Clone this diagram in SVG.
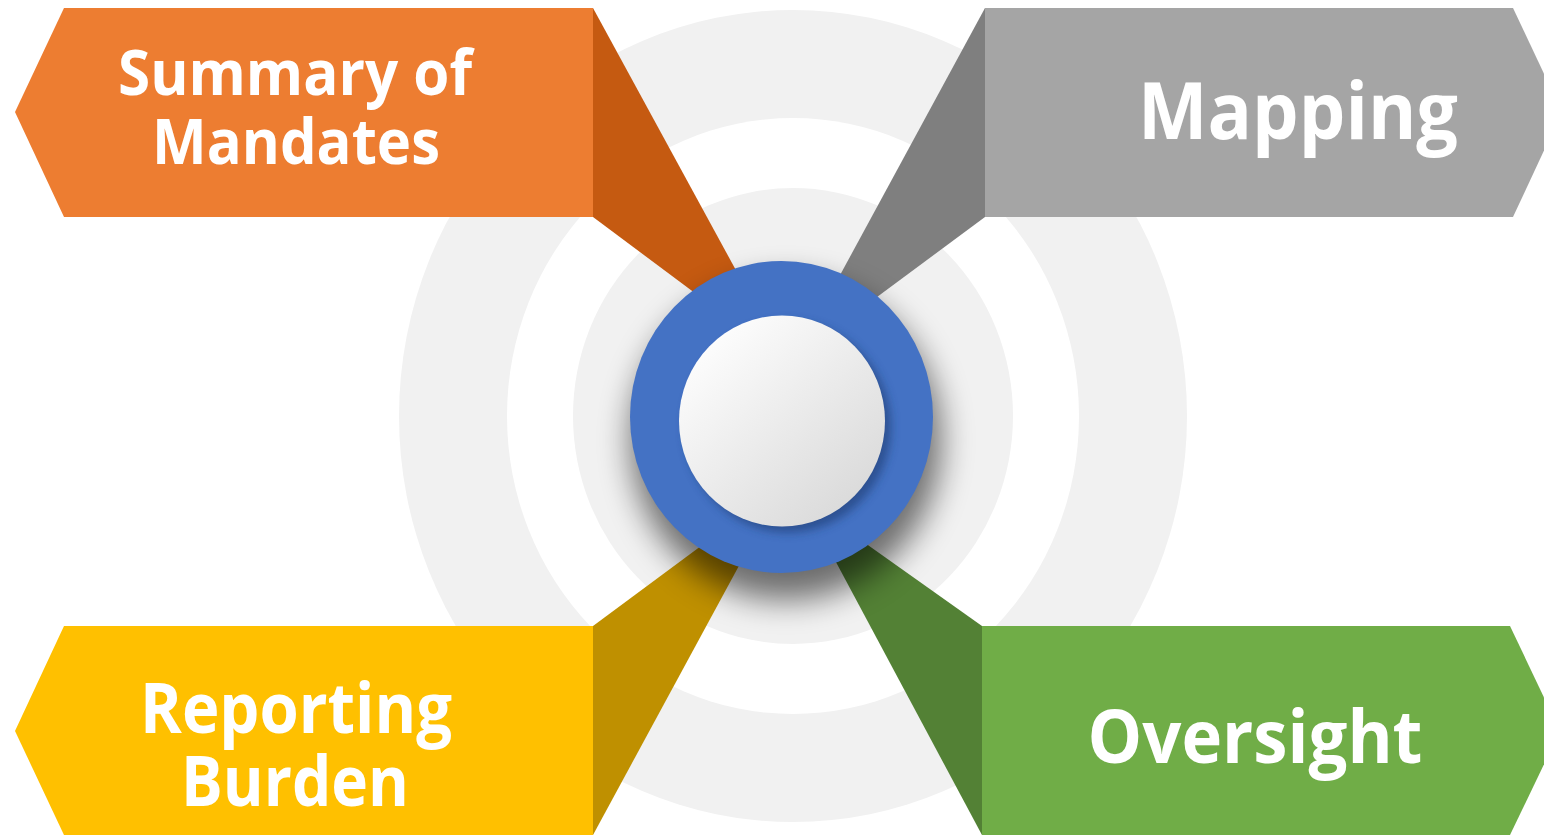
<svg xmlns="http://www.w3.org/2000/svg" width="1544" height="835" viewBox="0 0 1544 835">
<defs>
<style>
.lbl{font-family:"Open Sans","Liberation Sans",sans-serif;font-weight:700;fill:#fff;text-anchor:middle}
.ring{fill:#f1f1f1}
</style>
<filter id="blur" x="-50%" y="-50%" width="200%" height="200%"><feGaussianBlur stdDeviation="16"/></filter>
<filter id="ishadow" x="-30%" y="-30%" width="160%" height="160%"><feGaussianBlur stdDeviation="5"/></filter>
<linearGradient id="disc" x1="0.15" y1="0.1" x2="0.85" y2="0.9">
<stop offset="0" stop-color="#fdfdfd"/>
<stop offset="1" stop-color="#dadada"/>
</linearGradient>
</defs>
<rect width="1544" height="835" fill="#fff"/>
<g id="rings">
<ellipse class="ring" cx="793" cy="416" rx="394" ry="406"/>
<ellipse cx="793" cy="416" rx="286" ry="298" fill="#fff"/>
<ellipse class="ring" cx="793" cy="416" rx="220" ry="228"/>
</g>
<g id="connectors">
<polygon points="593,8 756,307 723,314 593,217" fill="#C55A11"/>
<polygon points="985,8 820,312 846,320 985,217" fill="#7F7F7F"/>
<polygon points="593,626 728,526 760,527 593,835" fill="#BF9000"/>
<polygon points="982,626 834,521 814,521 982,835" fill="#538135"/>
</g>
<g id="summary">
<polygon points="64,8 593,8 593,217 64,217 15,112" fill="#ED7D31"/>
<text class="lbl" x="295" y="95" font-size="63" textLength="354" lengthAdjust="spacingAndGlyphs">Summary of</text>
<text class="lbl" x="296" y="164" font-size="63" textLength="288" lengthAdjust="spacingAndGlyphs">Mandates</text>
</g>
<g id="mapping">
<polygon points="985,8 1513,8 1562,112 1513,217 985,217" fill="#A5A5A5"/>
<text class="lbl" x="1298" y="139" font-size="78" textLength="320" lengthAdjust="spacingAndGlyphs">Mapping</text>
</g>
<g id="reporting">
<polygon points="64,626 593,626 593,835 64,835 15,731" fill="#FFC000"/>
<text class="lbl" x="296" y="733" font-size="70" textLength="312" lengthAdjust="spacingAndGlyphs">Reporting</text>
<text class="lbl" x="295" y="806" font-size="70" textLength="228" lengthAdjust="spacingAndGlyphs">Burden</text>
</g>
<g id="oversight">
<polygon points="982,626 1510,626 1560,731 1510,835 982,835" fill="#70AD47"/>
<text class="lbl" x="1255" y="763" font-size="74" textLength="335" lengthAdjust="spacingAndGlyphs">Oversight</text>
</g>
<g id="center">
<ellipse cx="786" cy="440" rx="155" ry="160" fill="#000" opacity="0.55" filter="url(#blur)"/>
<ellipse cx="781.5" cy="417" rx="151.5" ry="156" fill="#4472C4"/>
<ellipse cx="788" cy="427" rx="103" ry="105.5" fill="#1f3a70" opacity="0.6" filter="url(#ishadow)"/>
<ellipse cx="782" cy="421" rx="103" ry="105.5" fill="url(#disc)"/>
</g>
</svg>
